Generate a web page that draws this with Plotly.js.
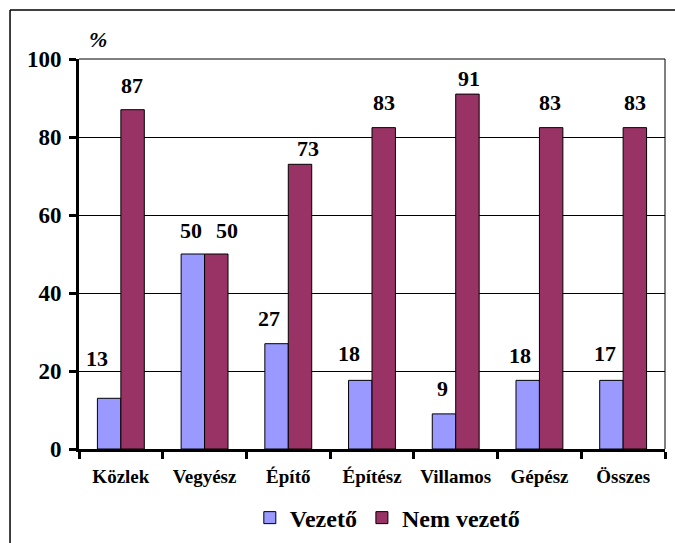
<!DOCTYPE html>
<html>
<head>
<meta charset="utf-8">
<script src="https://cdn.plot.ly/plotly-3.0.1.min.js"></script>
<style>
html,body{margin:0;padding:0;background:#fff;}
#chart{width:675px;height:543px;}
#chart text{font-family:'Liberation Serif', serif !important;}
</style>
</head>
<body>
<div id="chart"></div>
<script>
var categories = ['Közlek', 'Vegyész', 'Építő', 'Építész', 'Villamos', 'Gépész', 'Összes'];
var vezetoValues = [13, 50, 27, 17.6, 9, 17.6, 17.6];
var nemVezetoValues = [87, 50, 73, 82.4, 91, 82.4, 82.4];
var vezetoLabels = ['13', '50', '27', '18', '9', '18', '17'];
var nemVezetoLabels = ['87', '50', '73', '83', '91', '83', '83'];
var seriesNames = ['Vezető', 'Nem vezető'];
var yTicks = [0, 20, 40, 60, 80, 100];

// label placement tweaks (pixels)
var vezDx = [-24, -14, -19, -23, -13, -19, -18];
var vezDy = [40, 24, 25, 27, 25, 25, 27];
var nemDx = [11, 22, 20, 12, 13, 11, 12];
var nemDy = [24, 24, 16, 25, 16, 25, 25];

var FONT = 'Liberation Serif';

var traces = [
  {type: 'bar', name: seriesNames[0], x: categories, y: vezetoValues,
   marker: {color: '#9999FF', line: {color: '#000000', width: 1}}},
  {type: 'bar', name: seriesNames[1], x: categories, y: nemVezetoValues,
   marker: {color: '#993366', line: {color: '#000000', width: 1}}}
];

var annotations = [];
categories.forEach(function (c, i) {
  annotations.push({xref: 'x', yref: 'y', x: i, y: vezetoValues[i], text: vezetoLabels[i],
    showarrow: false, xanchor: 'center', yanchor: 'middle', xshift: vezDx[i], yshift: vezDy[i],
    font: {family: FONT, size: 22, color: '#000', weight: 'bold'}});
  annotations.push({xref: 'x', yref: 'y', x: i, y: nemVezetoValues[i], text: nemVezetoLabels[i],
    showarrow: false, xanchor: 'center', yanchor: 'middle', xshift: nemDx[i], yshift: nemDy[i],
    font: {family: FONT, size: 22, color: '#000', weight: 'bold'}});
});
annotations.push({xref: 'paper', yref: 'paper', x: 0.0324, y: 1.049, text: '<i>%</i>',
  showarrow: false, xanchor: 'center', yanchor: 'middle',
  font: {family: FONT, size: 22, color: '#000', weight: 'bold'}});

var layout = {
  width: 675, height: 543,
  margin: {l: 79, r: 10, t: 59, b: 94, pad: 0, autoexpand: false},
  paper_bgcolor: '#ffffff', plot_bgcolor: '#ffffff',
  font: {family: FONT, color: '#000', weight: 'bold'},
  barmode: 'group', bargap: 0.44, bargroupgap: 0,
  showlegend: true,
  legend: {orientation: 'h', x: 0.527, xanchor: 'center', y: -0.177, yanchor: 'middle',
    font: {family: FONT, size: 24, color: '#000', weight: 'bold'},
    itemwidth: 30, traceorder: 'normal', bgcolor: 'rgba(0,0,0,0)'},
  xaxis: {type: 'category', tickson: 'boundaries', ticks: 'outside', ticklen: 7, tickwidth: 3,
    tickcolor: '#000', showline: true, linecolor: '#000', linewidth: 3, showgrid: false,
    ticklabelstandoff: 8, automargin: false,
    tickfont: {family: FONT, size: 19, color: '#000', weight: 'bold'}},
  yaxis: {range: [0, 100], tickvals: yTicks, ticktext: yTicks.map(String), ticks: 'outside',
    ticklen: 7, tickwidth: 3, tickcolor: '#000', showline: true, linecolor: '#000', linewidth: 3,
    showgrid: true, gridcolor: '#000', gridwidth: 1, zeroline: false, ticklabelstandoff: 3,
    automargin: false,
    tickfont: {family: FONT, size: 23, color: '#000', weight: 'bold'}},
  annotations: annotations,
  shapes: [
    {type: 'line', xref: 'paper', yref: 'paper', x0: 0, x1: 1, y0: 1, y1: 1, line: {color: '#000', width: 1}},
    {type: 'line', xref: 'paper', yref: 'paper', x0: 1, x1: 1, y0: 0, y1: 1, line: {color: '#000', width: 1}},
    {type: 'line', xref: 'paper', yref: 'paper', x0: -0.1177, x1: 1.03, y0: 1.1256, y1: 1.1256, line: {color: '#000', width: 1.5}},
    {type: 'line', xref: 'paper', yref: 'paper', x0: -0.1177, x1: -0.1177, y0: -0.26, y1: 1.1256, line: {color: '#000', width: 1.5}}
  ]
};

Plotly.newPlot('chart', traces, layout, {staticPlot: true, displayModeBar: false});
</script>
</body>
</html>
